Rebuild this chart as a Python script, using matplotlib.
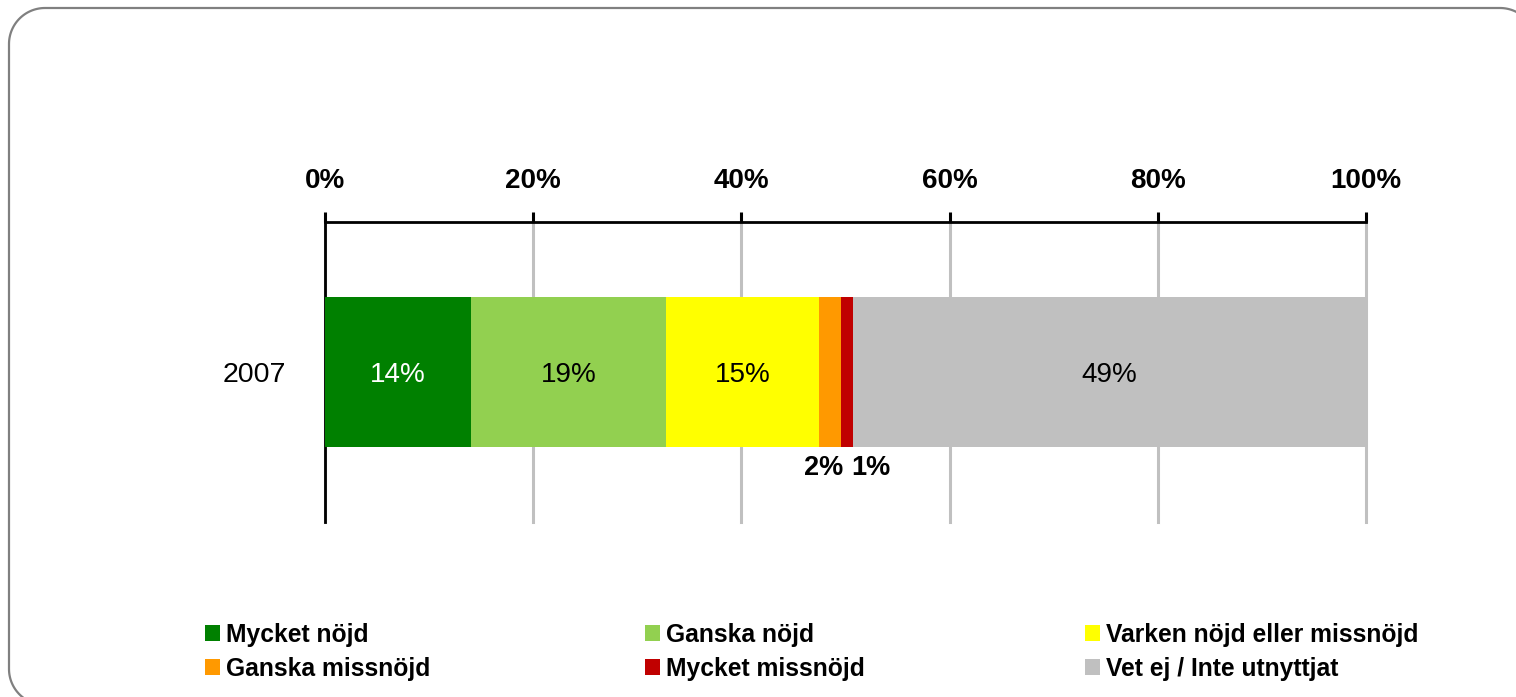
import matplotlib
matplotlib.use("Agg")
import numpy as np
import matplotlib.pyplot as plt
from matplotlib.patches import Patch, PathPatch
from matplotlib.path import Path
from matplotlib.transforms import IdentityTransform

# ---- data ----
year_labels = ["2007"]
categories = ["Mycket nöjd", "Ganska nöjd", "Varken nöjd eller missnöjd",
              "Ganska missnöjd", "Mycket missnöjd", "Vet ej / Inte utnyttjat"]
values = [14.0, 18.8, 14.7, 2.1, 1.1, 49.3]
colors = ["#008000", "#92D050", "#FFFF00", "#FF9900", "#C00000", "#C0C0C0"]
label_colors = ["white", "black", "black", "black", "black", "black"]
x_ticks = [0, 20, 40, 60, 80, 100]
x_tick_labels = ["0%", "20%", "40%", "60%", "80%", "100%"]

plt.rcParams['font.family'] = ['Liberation Sans', 'DejaVu Sans']

W, H = 1516, 697
fig = plt.figure(figsize=(W / 100, H / 100), dpi=100)
fig.patch.set_facecolor("white")

# rounded border drawn in pixel coordinates (y up)
def rounded_rect_path(x0, y0, x1, y1, r, n=30):
    pts = []
    for cx, cy, a0 in [(x1 - r, y1 - r, 0), (x0 + r, y1 - r, 90),
                       (x0 + r, y0 + r, 180), (x1 - r, y0 + r, 270)]:
        t = np.radians(np.linspace(a0, a0 + 90, n))
        pts += list(zip(cx + r * np.cos(t), cy + r * np.sin(t)))
    pts.append(pts[0])
    return Path(pts)

border = PathPatch(rounded_rect_path(9, -8, 1536, 689, 36),
                   transform=IdentityTransform(), fill=False,
                   edgecolor="#808080", linewidth=1.6)
fig.add_artist(border)

ax = fig.add_axes([325 / W, 1 - 522 / H, (1366 - 325) / W, (522 - 222) / H])
ax.set_xlim(0, 100)
ax.set_ylim(-0.5, 0.5)

left = 0.0
for v, c, lc, name in zip(values, colors, label_colors, categories):
    ax.barh(0, v, left=left, height=0.503, color=c, zorder=3, label=name)
    center = left + v / 2
    if v >= 5:
        ax.text(center, -0.01, f"{round(v)}%", ha="center", va="center",
                fontsize=20, color=lc, zorder=4)
    left += v

# small segment labels below the bar
cum = 0.0
small_offsets = {3: -7, 4: 24}
for i, v in enumerate(values):
    if i in small_offsets:
        ax.annotate(f"{round(v)}%", xy=(cum + v / 2, -0.2515),
                    xytext=(small_offsets[i], -21), textcoords="offset pixels",
                    ha="center", va="center", fontsize=19.5, fontweight="bold",
                    color="black", zorder=4)
    cum += v

ax.xaxis.tick_top()
ax.set_xticks(x_ticks)
ax.set_xticklabels(x_tick_labels, fontsize=20, fontweight="bold")
ax.tick_params(axis="x", direction="out", length=7, width=2.2, color="black", pad=13)
ax.set_yticks([0])
ax.set_yticklabels(year_labels, fontsize=20.5)
ax.tick_params(axis="y", length=0, pad=28)

ax.grid(axis="x", color="#C0C0C0", linewidth=2.2, zorder=0)
for gl in ax.get_xgridlines():
    gl.set_clip_on(False)
ax.set_axisbelow(True)
for s in ["right", "bottom"]:
    ax.spines[s].set_visible(False)
for s in ["top", "left"]:
    ax.spines[s].set_color("black")
    ax.spines[s].set_linewidth(2)
ax.set_facecolor("none")

# legend: three columns, two rows
handles = [Patch(facecolor=c, edgecolor="none") for c in colors]
col_x = [195, 635, 1075]
for k in range(3):
    idx = [k, k + 3]
    fig.legend([handles[i] for i in idx], [categories[i] for i in idx],
               loc="upper left", bbox_to_anchor=(col_x[k] / W, 1 - 613 / H),
               frameon=False, ncol=1, handlelength=0.6, handleheight=0.6,
               handletextpad=0.25, labelspacing=0.4, borderaxespad=0,
               prop={"weight": "bold", "size": 17.7})

fig.savefig("out.png", dpi=100, facecolor="white")
